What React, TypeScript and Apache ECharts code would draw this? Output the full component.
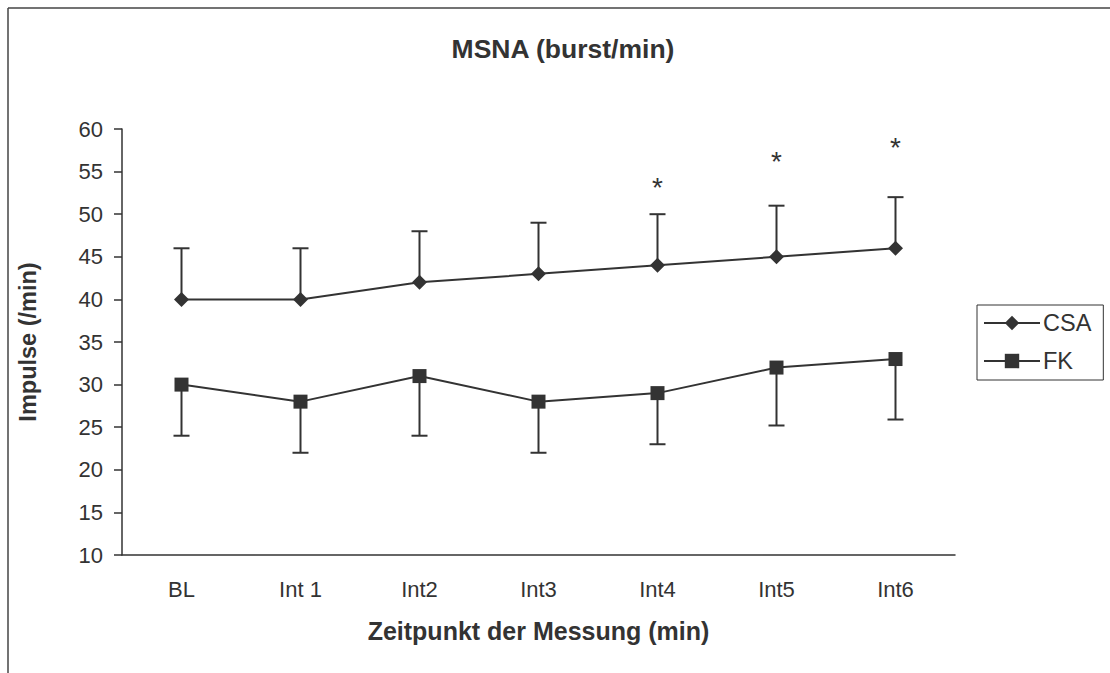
import React, { useEffect, useRef } from "react";
import * as echarts from "echarts";

const categories = ["BL", "Int 1", "Int2", "Int3", "Int4", "Int5", "Int6"];
const csaMean = [40, 40, 42, 43, 44, 45, 46];
const csaUpper = [46, 46, 48, 49, 50, 51, 52];
const fkMean = [30, 28, 31, 28, 29, 32, 33];
const fkLower = [24, 22, 24, 22, 23, 25.2, 25.9];
const starIdx = [4, 5, 6];
const starY = [53.1, 56.2, 57.8];
const yTicks = { min: 10, max: 60, interval: 5 };

const INK = "#333333";
const FONT = "Arial, 'Liberation Sans', Helvetica, sans-serif";

export default function App() {
  const ref = useRef<HTMLDivElement>(null);
  useEffect(() => {
    if (!ref.current) return;
    const chart = echarts.init(ref.current, undefined, { renderer: "svg" });

    const errRender = (params: any, api: any) => {
      const x = api.value(0);
      const mean = api.value(1);
      const end = api.value(2);
      const p0 = api.coord([x, mean]);
      const p1 = api.coord([x, end]);
      const hw = 8;
      return {
        type: "group",
        children: [
          { type: "line", shape: { x1: p0[0], y1: p0[1], x2: p1[0], y2: p1[1] }, style: { stroke: INK, lineWidth: 2 } },
          { type: "line", shape: { x1: p1[0] - hw, y1: p1[1], x2: p1[0] + hw, y2: p1[1] }, style: { stroke: INK, lineWidth: 2 } },
        ],
      };
    };

    const starRender = (params: any, api: any) => {
      const p = api.coord([api.value(0), api.value(1)]);
      return {
        type: "text",
        x: p[0],
        y: p[1],
        style: { text: "*", fill: INK, font: `28px ${FONT}`, align: "center", verticalAlign: "middle" },
      };
    };

    chart.setOption({
      animation: false,
      backgroundColor: "#ffffff",
      textStyle: { fontFamily: FONT, color: INK },
      title: {
        text: "MSNA (burst/min)",
        left: 558,
        textAlign: "center",
        top: 30,
        textStyle: { fontSize: 26.5, fontWeight: "bold", color: INK, fontFamily: FONT },
      },
      legend: {
        orient: "vertical",
        left: 977,
        top: 305,
        data: ["CSA", "FK"],
        borderColor: INK,
        borderWidth: 1,
        borderRadius: 0,
        padding: [6, 12, 7, 6],
        itemGap: 14,
        itemWidth: 56,
        itemHeight: 18,
        textStyle: { fontSize: 23.5, color: INK, fontFamily: FONT, padding: [0, 0, 0, -2] },
      },
      grid: { left: 122, right: 155, top: 129, bottom: 118 },
      xAxis: {
        type: "category",
        data: categories,
        boundaryGap: true,
        name: "Zeitpunkt der Messung (min)",
        nameLocation: "middle",
        nameGap: 63,
        nameTextStyle: { fontSize: 25, fontWeight: "bold", color: INK, fontFamily: FONT },
        axisLine: { lineStyle: { color: INK, width: 1.5 } },
        axisTick: { show: false },
        axisLabel: { fontSize: 22, color: INK, margin: 23, fontFamily: FONT },
      },
      yAxis: {
        type: "value",
        min: yTicks.min,
        max: yTicks.max,
        interval: yTicks.interval,
        name: "Impulse (/min)",
        nameLocation: "middle",
        nameGap: 82,
        nameRotate: 90,
        nameTextStyle: { fontSize: 23.5, fontWeight: "bold", color: INK, fontFamily: FONT },
        axisLine: { show: true, lineStyle: { color: INK, width: 1.5 } },
        axisTick: { show: true, inside: false, length: 8, lineStyle: { color: INK, width: 1.5 } },
        splitLine: { show: false },
        axisLabel: { fontSize: 22, color: INK, margin: 19, fontFamily: FONT },
      },
      graphic: [
        { type: "line", shape: { x1: 8, y1: 8, x2: 1110, y2: 8 }, style: { stroke: "#444", lineWidth: 1.5 }, z: 100 },
        { type: "line", shape: { x1: 8, y1: 8, x2: 8, y2: 673 }, style: { stroke: "#444", lineWidth: 1.5 }, z: 100 },
      ],
      series: [
        {
          name: "CSA-err",
          type: "custom",
          renderItem: errRender,
          data: csaMean.map((m, i) => [i, m, csaUpper[i]]),
          z: 1,
          silent: true,
        },
        {
          name: "FK-err",
          type: "custom",
          renderItem: errRender,
          data: fkMean.map((m, i) => [i, m, fkLower[i]]),
          z: 1,
          silent: true,
        },
        {
          name: "CSA",
          type: "line",
          data: csaMean,
          symbol: "diamond",
          symbolSize: 15,
          lineStyle: { color: INK, width: 2 },
          itemStyle: { color: INK },
          z: 3,
        },
        {
          name: "FK",
          type: "line",
          data: fkMean,
          symbol: "rect",
          symbolSize: 14,
          lineStyle: { color: INK, width: 2 },
          itemStyle: { color: INK },
          z: 3,
        },
        {
          name: "stars",
          type: "custom",
          renderItem: starRender,
          data: starIdx.map((c, i) => [c, starY[i]]),
          z: 4,
          silent: true,
        },
      ],
    });
    return () => chart.dispose();
  }, []);
  return (
    <div
      ref={ref}
      style={{ position: "fixed", left: 0, top: 0, width: 1110, height: 673, background: "#fff" }}
    />
  );
}
